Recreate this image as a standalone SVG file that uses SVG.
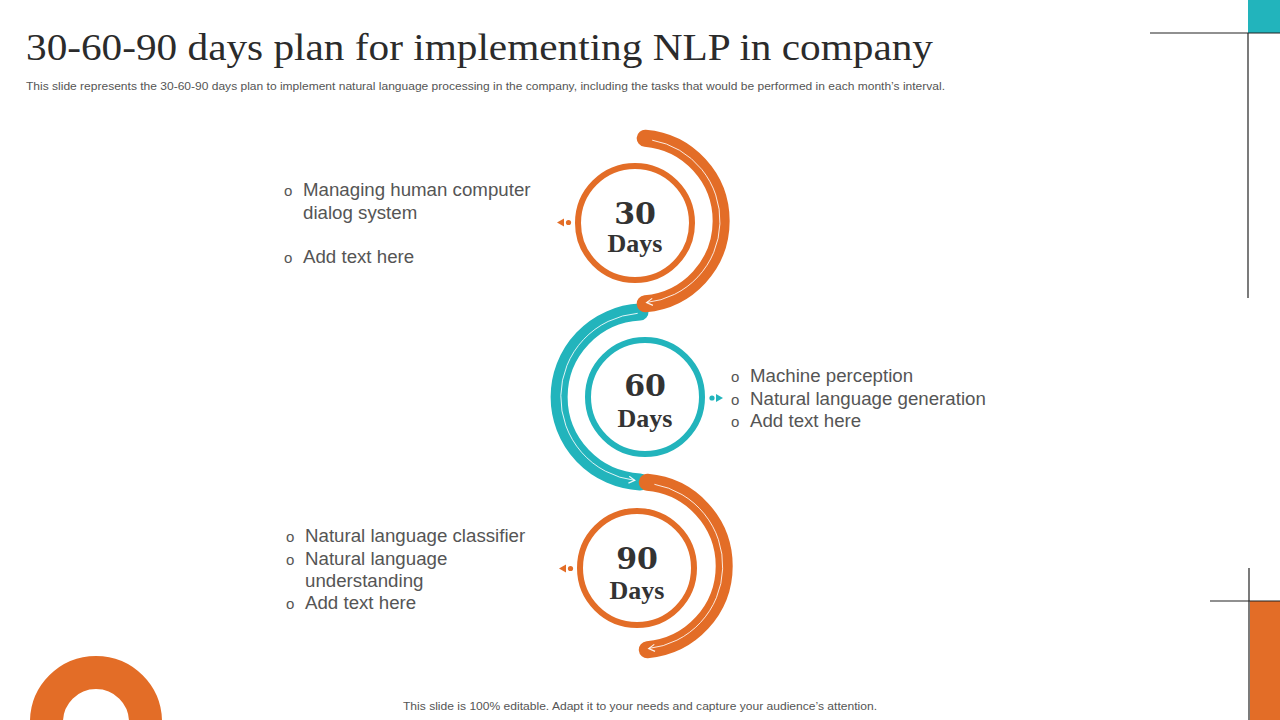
<svg xmlns="http://www.w3.org/2000/svg" width="1280" height="720" viewBox="0 0 1280 720">
<defs>
<style>
.title{font-family:"Liberation Serif","DejaVu Serif",serif;font-size:38px;fill:#2b2b2b}
.sub{font-family:"Liberation Sans",Arial,sans-serif;font-size:11px;fill:#555}
.txt{font-family:"Liberation Sans",Arial,sans-serif;font-size:18.7px;fill:#555}
.bul{font-family:"Liberation Sans",Arial,sans-serif;font-size:15px;fill:#555}
.num{font-family:"DejaVu Serif","Liberation Serif",serif;font-weight:bold;font-size:30px;fill:#333;text-anchor:middle}
.days{font-family:"Liberation Serif","DejaVu Serif",serif;font-weight:bold;font-size:26px;fill:#333;text-anchor:middle}
.arcO{fill:none;stroke:#E36D27;stroke-width:17;stroke-linecap:round}
.arcT{fill:none;stroke:#22B4BC;stroke-width:17;stroke-linecap:round}
.wl{fill:none;stroke:#fff;stroke-opacity:0.85;stroke-width:1;marker-end:url(#chev)}
.ringO{fill:#fff;stroke:#E36D27;stroke-width:6}
.ringT{fill:#fff;stroke:#22B4BC;stroke-width:6}
.dark{stroke:#222;stroke-width:1.2}
</style>
<marker id="chev" markerUnits="userSpaceOnUse" markerWidth="10" markerHeight="10" refX="7" refY="4" orient="auto">
<path d="M1,0.5 L7,4 L1,7.5" fill="none" stroke="#fff" stroke-opacity="0.9" stroke-width="1.2"/>
</marker>
</defs>
<rect width="1280" height="720" fill="#fff"/>

<g id="header">
<text class="title" x="26" y="60" textLength="907" lengthAdjust="spacingAndGlyphs">30-60-90 days plan for implementing NLP in company</text>
<text class="sub" x="26" y="90" textLength="919" lengthAdjust="spacingAndGlyphs">This slide represents the 30-60-90 days plan to implement natural language processing in the company, including the tasks that would be performed in each month’s interval.</text>
</g>

<g id="decorations">
<rect x="1248" y="0" width="32" height="33" fill="#22B4BC"/>
<line class="dark" x1="1150" y1="33" x2="1280" y2="33"/>
<line class="dark" x1="1248" y1="33" x2="1248" y2="298"/>
<rect x="1250" y="601" width="30" height="119" fill="#E36D27"/>
<line class="dark" x1="1210" y1="601" x2="1280" y2="601"/>
<line class="dark" x1="1249" y1="568" x2="1249" y2="720"/>
<circle cx="96" cy="722" r="49.5" fill="none" stroke="#E36D27" stroke-width="33"/>
</g>

<g id="connectors">
<path class="arcT" d="M640,312.1 A85,85 0 0 0 640,481.9"/>
<path class="wl" d="M637.7,313.3 A84,84 0 0 0 634.8,480.4"/>
<path class="arcO" d="M645.2,138.3 A83,83 0 0 1 645.2,303.7"/>
<path class="wl" d="M652.2,140.2 A82,82 0 0 1 646.6,302.5"/>
<path class="arcO" d="M647.3,482.3 A84,84 0 0 1 647.3,649.7"/>
<path class="wl" d="M654.4,484.3 A83,83 0 0 1 648.7,648.5"/>
</g>

<g id="node30">
<circle class="ringO" cx="635" cy="223" r="57"/>
<text class="num" x="635" y="224">30</text>
<text class="days" x="635" y="252">Days</text>
<polygon points="557,222.5 564,218.5 564,226.5" fill="#E36D27"/>
<circle cx="568.5" cy="222.5" r="2.6" fill="#E36D27"/>
</g>

<g id="node60">
<circle class="ringT" cx="645" cy="397" r="57"/>
<text class="num" x="645" y="396">60</text>
<text class="days" x="645" y="427">Days</text>
<circle cx="712" cy="398" r="2.6" fill="#22B4BC"/>
<polygon points="723,398 716,394 716,402" fill="#22B4BC"/>
</g>

<g id="node90">
<circle class="ringO" cx="637" cy="568" r="57"/>
<text class="num" x="637" y="569">90</text>
<text class="days" x="637" y="599">Days</text>
<polygon points="559,568.5 566,564.5 566,572.5" fill="#E36D27"/>
<circle cx="570.5" cy="568.5" r="2.6" fill="#E36D27"/>
</g>

<g id="text30">
<text class="bul" x="284" y="196">o</text>
<text class="txt" x="303" y="196">Managing human computer</text>
<text class="txt" x="303" y="219">dialog system</text>
<text class="bul" x="284" y="263">o</text>
<text class="txt" x="303" y="263">Add text here</text>
</g>

<g id="text60">
<text class="bul" x="731" y="382">o</text>
<text class="txt" x="750" y="382">Machine perception</text>
<text class="bul" x="731" y="405">o</text>
<text class="txt" x="750" y="405">Natural language generation</text>
<text class="bul" x="731" y="427">o</text>
<text class="txt" x="750" y="427">Add text here</text>
</g>

<g id="text90">
<text class="bul" x="286" y="542">o</text>
<text class="txt" x="305" y="542">Natural language classifier</text>
<text class="bul" x="286" y="565">o</text>
<text class="txt" x="305" y="565">Natural language</text>
<text class="txt" x="305" y="587">understanding</text>
<text class="bul" x="286" y="609">o</text>
<text class="txt" x="305" y="609">Add text here</text>
</g>

<g id="footer">
<text class="sub" x="403" y="710" textLength="474" lengthAdjust="spacingAndGlyphs">This slide is 100% editable. Adapt it to your needs and capture your audience’s attention.</text>
</g>
</svg>
